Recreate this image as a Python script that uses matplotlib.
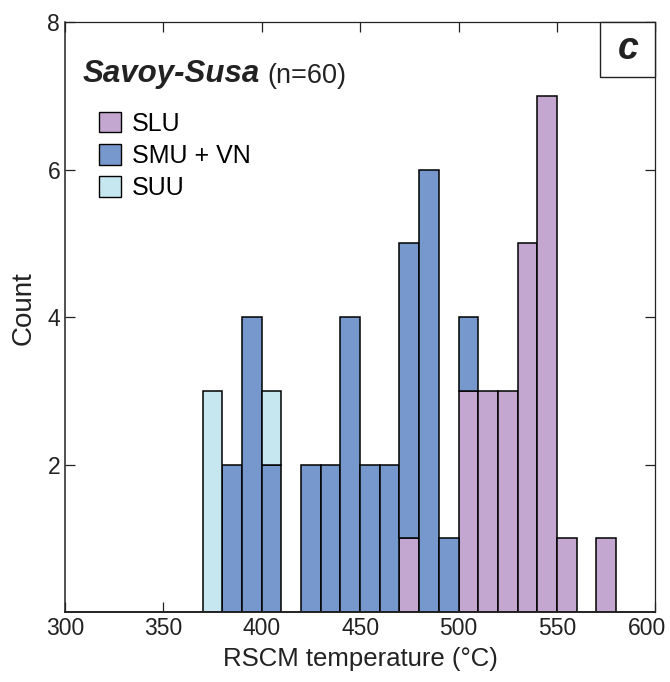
import numpy as np
import matplotlib
matplotlib.use("Agg")
import matplotlib.pyplot as plt
from matplotlib.patches import Patch, Rectangle
from matplotlib.transforms import ScaledTranslation

plt.rcParams['font.family'] = ['Liberation Sans', 'DejaVu Sans']

# histogram bins (left edges, width 10 °C) and stacked counts
bin_left = [370, 380, 390, 400, 410, 420, 430, 440, 450, 460, 470,
            480, 490, 500, 510, 520, 530, 540, 550, 560, 570]
slu = [0, 0, 0, 0, 0, 0, 0, 0, 0, 0, 1, 0, 0, 3, 3, 3, 5, 7, 1, 0, 1]
smu = [0, 2, 4, 2, 0, 2, 2, 4, 2, 2, 4, 6, 1, 1, 0, 0, 0, 0, 0, 0, 0]
suu = [3, 0, 0, 1, 0, 0, 0, 0, 0, 0, 0, 0, 0, 0, 0, 0, 0, 0, 0, 0, 0]
series_names = ["SLU", "SMU + VN", "SUU"]
series_colors = ["#c4a7d0", "#7798cc", "#c6e7f0"]
bin_width = 10

fig = plt.figure(figsize=(6.7, 6.82), dpi=100)
ax = fig.add_axes([0.097, 0.1026, 0.881, 0.8651])

x = np.array(bin_left)
bottom = np.zeros(len(x))
for vals, color in zip([slu, smu, suu], series_colors):
    vals = np.array(vals)
    m = vals > 0
    ax.bar(x[m], vals[m], width=bin_width, bottom=bottom[m], align='edge',
           color=color, edgecolor='black', linewidth=1.1, zorder=2)
    bottom = bottom + vals

ax.set_xlim(300, 600)
ax.set_ylim(0, 8)
ax.set_xticks(np.arange(300, 601, 50))
ax.set_yticks([2, 4, 6, 8])
ax.tick_params(direction='in', length=7, width=0.9, labelsize=16.5,
               top=True, right=True, colors='#222222', labelcolor='#222222')
for side, lw in [('left', 1.1), ('bottom', 1.4), ('top', 0.9), ('right', 0.9)]:
    ax.spines[side].set_linewidth(lw)
    ax.spines[side].set_color('#222222')
    ax.spines[side].set_zorder(3)

# last x label sits slightly inside the figure edge
fig.canvas.draw()
last = ax.get_xticklabels()[-1]
last.set_transform(last.get_transform() + ScaledTranslation(-8 / 100, 0, fig.dpi_scale_trans))

ax.set_xlabel("RSCM temperature (°C)", fontsize=18.5, color='#222222', labelpad=5)
ax.set_ylabel("Count", fontsize=20, color='#222222')
ax.yaxis.set_label_coords(-0.048, 0.515)

t1 = ax.text(0.03, 0.898, "Savoy-Susa", transform=ax.transAxes, fontsize=22.5,
             fontweight='bold', fontstyle='italic', color='#222222', va='baseline')
ax.annotate("(n=60)", xy=(1, 0), xycoords=t1, xytext=(5, 0),
            textcoords='offset points', va='bottom', fontsize=19.5, color='#222222')

# panel letter box
ax.add_patch(Rectangle((0.907, 0.907), 0.093, 0.093, transform=ax.transAxes,
                       facecolor='white', edgecolor='#222222', linewidth=1.0,
                       zorder=4, clip_on=False))
ax.text(0.9535, 0.9535, "c", transform=ax.transAxes, fontsize=27,
        fontweight='bold', fontstyle='italic', ha='center', va='center',
        color='#222222', zorder=5)

handles = [Patch(facecolor=c, edgecolor='black', linewidth=1.0) for c in series_colors]
ax.legend(handles, series_names, loc='upper left', bbox_to_anchor=(0.058, 0.848),
          frameon=False, fontsize=18, handlelength=0.88, handleheight=0.88,
          handletextpad=0.42, labelspacing=0.33, borderpad=0, borderaxespad=0)

fig.savefig("out.png", dpi=100)
